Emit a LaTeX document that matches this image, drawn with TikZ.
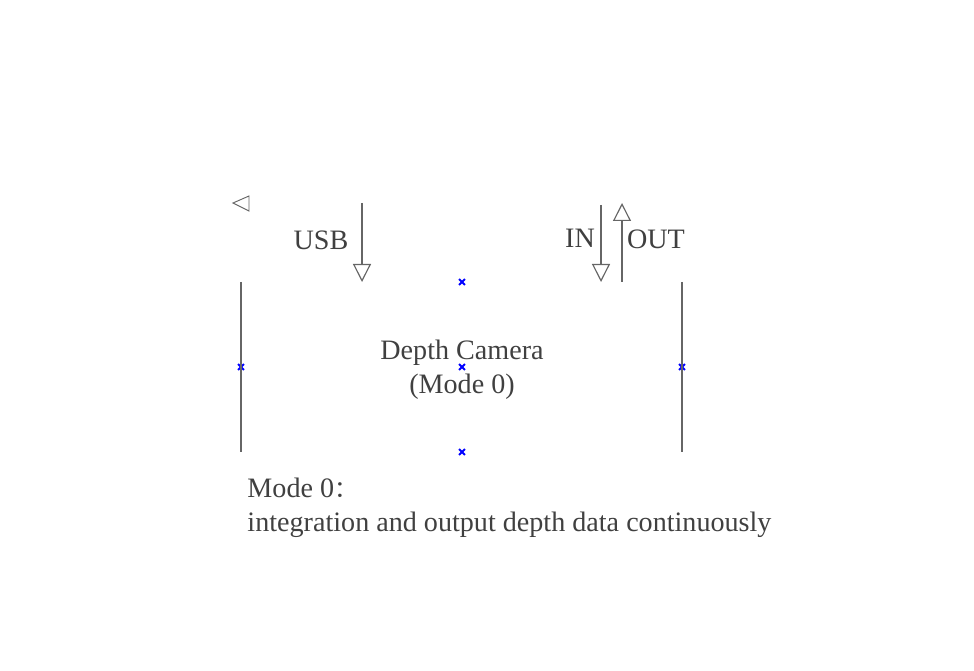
\documentclass[tikz,border=0pt]{standalone}
\usepackage{fontspec}
\setmainfont{Liberation Serif}
\newfontfamily\cjk{Noto Sans CJK SC}
\usetikzlibrary{arrows.meta, shapes.misc}
\begin{document}
\begin{tikzpicture}[x=0.15mm, y=-0.15mm, >={Triangle[open, length=2.7mm, width=2.7mm]},
  lbl/.style={text=black!75, font=\fontsize{12}{14.6}\selectfont, inner sep=0pt},
  anc/.style={cross out, draw=blue, thick, inner sep=0pt, minimum size=0.6mm},
  wire/.style={draw=black!60, line width=0.5pt}]
\useasboundingbox (0,0) rectangle (974,671);
\node[anc] (top) at (462,282) {};
\node[anc] (left) at (241,367) {};
\node[anc] (center) at (462,367) {};
\node[anc] (right) at (682,367) {};
\node[anc] (bottom) at (462,452) {};
\coordinate (lefttop) at (241,282);
\coordinate (leftbot) at (241,452);
\coordinate (righttop) at (682,282);
\coordinate (rightbot) at (682,452);
\coordinate (usbstart) at (362,203);
\coordinate (usbend) at (362,282);
\coordinate (instart) at (601,205);
\coordinate (inend) at (601,282);
\coordinate (outstart) at (622,282);
\coordinate (outend) at (622,203);
\draw[wire] (lefttop) -- (leftbot);
\draw[wire] (righttop) -- (rightbot);
\draw[wire, ->] (usbstart) -- (usbend);
\draw[wire, ->] (instart) -- (inend);
\draw[wire, ->] (outstart) -- (outend);
\draw[draw=black!60, line width=0.4pt] (233,203) -- (249,196) -- (249,211) -- cycle;
\node[lbl] (usb) at (321,240) {USB};
\node[lbl] (in) at (580,238) {IN};
\node[lbl] (out) at (656,239) {OUT};
\node[lbl, align=center] (camera) at (462,370) {Depth Camera\\(Mode 0)};
\node[lbl, anchor=west, align=left] (note) at (247,508) {Mode 0{\cjk\fontsize{10}{12}\selectfont ：}\\integration and output depth data continuously};
\end{tikzpicture}
\end{document}
